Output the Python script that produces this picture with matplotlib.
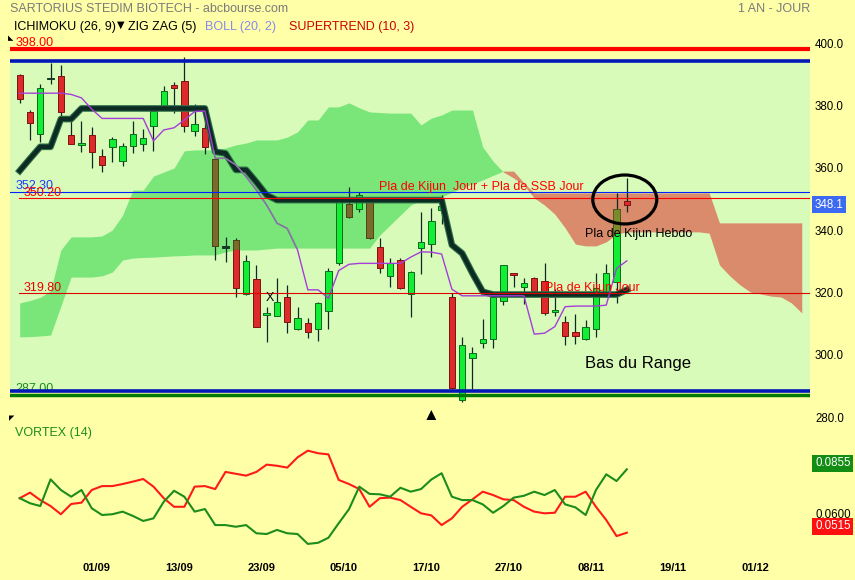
import numpy as np
import matplotlib.pyplot as plt
import matplotlib.transforms as mtransforms
from matplotlib.patches import Ellipse

plt.rcParams['font.family'] = ['Liberation Sans', 'DejaVu Sans']

W, H = 855, 580

# cours journaliers
opens = [389.7, 377.8, 370.7, 388.7, 389.5, 370.5, 367.4, 370.5, 363.7, 366.7,
         362.2, 367.0, 367.5, 373.5, 379.2, 386.5, 387.8, 371.8, 372.6, 362.7,
         334.5, 336.8, 319.4, 324.3, 312.6, 312.5, 318.4, 308.3, 310.1, 308.3,
         314.1, 329.3, 348.3, 346.6, 349.1, 334.5, 325.3, 330.4, 319.4, 334.1,
         335.4, 346.4, 318.6, 285.5, 299.0, 303.7, 304.9, 317.3, 326.1, 321.6,
         324.5, 323.6, 313.6, 310.5, 307.2, 304.9, 308.2, 319.2, 323.4, 349.4]
highs = [389.9, 378.5, 386.8, 393.5, 393.0, 377.1, 375.0, 373.1, 365.9, 369.9,
         367.8, 375.0, 372.4, 378.5, 386.2, 387.6, 395.6, 380.3, 375.8, 363.3,
         337.9, 337.4, 332.0, 328.8, 315.2, 324.5, 322.4, 315.2, 311.7, 317.0,
         327.7, 349.6, 353.7, 352.3, 349.6, 337.3, 330.9, 330.9, 326.9, 345.9,
         347.0, 351.2, 319.7, 305.8, 302.6, 311.5, 319.7, 328.9, 326.3, 324.5,
         325.0, 329.5, 321.1, 312.4, 313.0, 311.1, 326.1, 329.1, 351.8, 356.6]
lows = [380.8, 368.9, 368.3, 387.0, 376.4, 367.5, 365.1, 359.8, 358.7, 361.9,
        360.5, 364.8, 365.4, 365.4, 379.0, 377.6, 371.5, 370.3, 364.4, 330.4,
        329.8, 318.6, 319.0, 308.8, 304.2, 312.3, 307.1, 307.9, 305.3, 304.4,
        308.2, 328.8, 344.0, 345.9, 337.0, 326.1, 321.8, 321.0, 312.2, 325.8,
        331.4, 341.9, 289.0, 284.9, 288.9, 302.1, 302.1, 315.9, 321.6, 316.3,
        319.7, 312.7, 312.3, 303.0, 303.4, 304.8, 305.6, 318.5, 316.6, 345.9]
closes = [382.0, 374.4, 385.5, 388.7, 378.0, 367.7, 367.7, 365.1, 360.9, 369.1,
          367.0, 370.8, 369.4, 378.2, 384.6, 385.5, 373.5, 373.9, 366.5, 335.0,
          334.5, 321.5, 330.1, 308.8, 313.3, 316.8, 310.4, 311.7, 307.4, 316.5,
          326.9, 349.1, 344.3, 351.2, 337.3, 327.9, 329.3, 321.3, 326.4, 336.3,
          342.9, 347.7, 289.2, 303.1, 300.4, 305.0, 318.6, 328.8, 325.5, 322.9,
          320.5, 313.3, 314.3, 306.0, 305.9, 309.0, 321.3, 326.1, 346.6, 348.1]

# ichimoku
kijun = [359.0, 362.9, 366.7, 366.7, 375.6, 375.6, 379.0, 379.0, 379.0, 379.0,
         379.0, 379.0, 379.0, 379.0, 379.0, 379.0, 379.0, 379.0, 379.0, 365.1,
         364.6, 359.3, 359.3, 355.4, 351.2, 349.6, 349.6, 349.6, 349.6, 349.6,
         349.6, 349.6, 349.6, 349.6, 349.6, 349.6, 349.6, 349.6, 349.6, 349.6,
         349.6, 349.6, 335.2, 332.5, 326.1, 320.2, 319.3, 319.3, 319.3, 319.3,
         319.3, 319.3, 319.3, 319.3, 319.3, 319.3, 319.3, 319.3, 319.3, 320.8]
tenkan = [383.9, 383.9, 383.9, 383.9, 383.9, 383.5, 382.4, 378.8, 375.8, 375.8,
          375.8, 375.8, 375.8, 368.6, 372.1, 372.8, 375.3, 378.0, 378.2, 363.0,
          363.0, 360.9, 357.1, 352.8, 348.0, 342.2, 340.5, 333.6, 320.8, 320.8,
          318.1, 327.0, 329.0, 329.3, 329.3, 329.3, 329.3, 329.3, 331.3, 333.0,
          332.9, 332.3, 321.0, 318.9, 318.9, 318.9, 318.9, 318.9, 318.9, 318.9,
          306.6, 306.9, 309.0, 315.4, 315.6, 315.6, 315.6, 315.9, 327.7, 330.1]
ssa = [316.6, 317.4, 318.4, 320.5, 333.6, 337.8, 337.8, 337.8, 338.1, 340.0,
       344.8, 352.8, 352.8, 357.3, 358.6, 359.9, 365.4, 365.7, 365.7, 365.7,
       366.3, 367.3, 367.9, 368.9, 368.9, 368.9, 369.8, 371.5, 375.3, 375.3,
       379.5, 379.5, 380.8, 379.2, 377.9, 377.7, 377.5, 377.5, 377.5, 373.7,
       375.9, 376.9, 378.5, 378.5, 378.5, 366.6, 362.1, 358.6, 356.7, 354.4,
       350.3, 348.0, 345.1, 340.7, 335.5, 334.9, 334.9, 336.2, 338.7, 339.4,
       339.4, 339.4, 339.4, 339.4, 339.4, 339.4, 339.4, 339.0, 328.8, 325.3,
       322.4, 320.1, 319.5, 318.8, 318.5, 316.6, 313.4]
ssb = [305.7, 305.8, 306.0, 306.3, 315.6, 324.9, 324.9, 324.9, 325.3, 326.5,
       330.4, 331.0, 331.2, 331.3, 331.5, 331.7, 331.8, 332.0, 332.0, 332.0,
       333.0, 333.6, 333.6, 333.6, 333.9, 334.2, 334.2, 334.2, 334.2, 334.2,
       334.2, 334.2, 334.2, 334.2, 334.2, 338.4, 341.6, 344.8, 348.0, 349.6,
       350.6, 350.6, 352.1, 353.5, 354.8, 356.1, 357.5, 358.9, 358.9, 355.1,
       351.9, 351.9, 351.9, 351.9, 351.9, 351.9, 351.9, 351.9, 351.9, 351.9,
       351.9, 351.9, 351.9, 351.9, 351.9, 351.9, 351.9, 351.9, 342.3, 342.3,
       342.3, 342.3, 342.3, 342.3, 342.3, 342.3, 342.3]

# vortex (14)
vi_plus = [0.0700, 0.0673, 0.0658, 0.0801, 0.0744, 0.0708, 0.0744, 0.0646, 0.0610, 0.0614,
           0.0628, 0.0605, 0.0578, 0.0592, 0.0681, 0.0740, 0.0708, 0.0628, 0.0642, 0.0556,
           0.0556, 0.0547, 0.0556, 0.0512, 0.0508, 0.0530, 0.0512, 0.0508, 0.0455, 0.0461,
           0.0488, 0.0566, 0.0641, 0.0762, 0.0723, 0.0721, 0.0708, 0.0756, 0.0735, 0.0749,
           0.0800, 0.0834, 0.0708, 0.0690, 0.0690, 0.0667, 0.0622, 0.0658, 0.0703, 0.0713,
           0.0735, 0.0717, 0.0744, 0.0667, 0.0651, 0.0610, 0.0744, 0.0828, 0.0792, 0.0855]
vi_minus = [0.0700, 0.0730, 0.0690, 0.0658, 0.0614, 0.0669, 0.0676, 0.0744, 0.0765, 0.0765,
            0.0776, 0.0789, 0.0803, 0.0762, 0.0700, 0.0654, 0.0654, 0.0762, 0.0765, 0.0749,
            0.0841, 0.0831, 0.0821, 0.0841, 0.0880, 0.0874, 0.0864, 0.0919, 0.0955, 0.0941,
            0.0935, 0.0798, 0.0776, 0.0749, 0.0654, 0.0700, 0.0703, 0.0690, 0.0654, 0.0619,
            0.0608, 0.0556, 0.0592, 0.0654, 0.0694, 0.0735, 0.0717, 0.0694, 0.0690, 0.0654,
            0.0628, 0.0619, 0.0622, 0.0708, 0.0708, 0.0735, 0.0654, 0.0583, 0.0497, 0.0515]

# niveaux traces a la main
level_398 = 398.0
range_top = 394.3
range_bottom = 288.35
level_287 = 287.0
level_3523 = 352.3
level_3502 = 350.2
level_3198 = 319.8

date_pos = [7.5, 15.5, 23.5, 31.5, 39.5, 47.5, 55.5, 63.5, 71.5]
date_labels = ['01/09', '13/09', '23/09', '05/10', '17/10', '27/10', '08/11', '19/11', '01/12']
price_ticks = [280, 300, 320, 340, 360, 380, 400]

BG = '#ffffa8'
o = np.array(opens)
c = np.array(closes)
x = np.arange(len(closes))
xc = np.arange(len(ssa))
ssa_a = np.array(ssa)
ssb_a = np.array(ssb)


def fx(px):
    return px / W


def fy(py):
    return 1 - py / H


fig = plt.figure(figsize=(W / 100, H / 100), dpi=100, facecolor=BG)
ax = fig.add_axes([fx(10), fy(420), 800 / W, 388 / H], facecolor=BG)
ax.set_xlim(-0.943, 76.8)
ax.set_ylim(279.05, 403.53)
for s in ax.spines.values():
    s.set_visible(False)

# zone du range
ax.axhspan(range_bottom, range_top, color='#d9fbb9', lw=0, zorder=0.5)

# nuage
green_cloud = ax.fill_between(xc, ssa_a, ssb_a, where=ssa_a >= ssb_a, interpolate=True,
                              color='#7ae67a', lw=0, zorder=1)
red_cloud = ax.fill_between(xc, ssa_a, ssb_a, where=ssa_a < ssb_a, interpolate=True,
                            color='#d98b6b', lw=0, zorder=1)
gpath = green_cloud.get_paths()[0]
rpath = red_cloud.get_paths()[0]

# bougies
up = c > o
down = c < o
doji = ~(up | down)
body_col = np.where(up, '#11ee33', np.where(down, '#dd2a2a', '#163a26'))
edge_col = np.where(up, '#0b6a1e', np.where(down, '#7a1212', '#163a26'))
bottom = np.where(doji, o - 0.22, np.minimum(o, c))
height = np.where(doji, 0.45, np.maximum(np.abs(c - o), 0.5))
ax.vlines(x, lows, highs, color='#0b2a24', lw=0.9, zorder=3)
ax.bar(x, height, 0.62, bottom=bottom, color=body_col, edgecolor=edge_col, lw=0.7, zorder=3.5)

# corps vus a travers le nuage
brown = ax.bar(x[down], height[down], 0.62, bottom=bottom[down], color='#7a6a2c',
               edgecolor='#4e4418', lw=0.7, zorder=3.6)
for p in brown:
    p.set_clip_path(gpath, ax.transData)
olive = ax.bar(x[up], height[up], 0.62, bottom=bottom[up], color='#7c8a2e',
               edgecolor='#4e5a18', lw=0.7, zorder=3.6)
for p in olive:
    p.set_clip_path(rpath, ax.transData)

# kijun et tenkan
ax.plot(x, kijun, color='#2f7048', lw=4.8, zorder=3.8)
ax.plot(x, kijun, color='#0c2b22', lw=3.2, zorder=3.85)
ax.plot(x, tenkan, color='#a33fd8', lw=1.0, zorder=3.9)
grey_t, = ax.plot(x, tenkan, color='#7f7f99', lw=1.0, zorder=3.95)
grey_t.set_clip_path(gpath, ax.transData)

# lignes horizontales
ax.axhline(level_398, color='#ff0000', lw=3.0, zorder=4)
ax.axhline(range_top, color='#0018b8', lw=2.6, zorder=4)
ax.axhline(range_bottom, color='#0018b8', lw=2.6, zorder=4)
ax.axhline(level_287, color='#007a00', lw=2.5, zorder=4)
ax.axhline(level_3523, color='#0022ff', lw=0.8, zorder=4)
ax.axhline(level_3502, xmin=0.011, color='#ff0000', lw=0.8, zorder=4)
ax.axhline(level_3198, xmin=0.011, color='#dd0000', lw=0.8, zorder=4)

# etiquettes des niveaux
ax.text(-0.45, 400.0, '398.00', color='#ff0000', fontsize=9, va='center', zorder=5)
ax.text(-0.45, 354.1, '352.30', color='#1a3cff', fontsize=9, va='center', zorder=5)
ax.text(0.42, 351.9, '350.20', color='#ff0000', fontsize=9, va='center', zorder=5)
ax.text(0.42, 321.3, '319.80', color='#ee0000', fontsize=9, va='center', zorder=5)
ax.text(-0.45, 289.0, '287.00', color='#1c8c1c', fontsize=9, va='center', zorder=3.9)

# annotations
ax.text(34.9, 353.8, 'Pla de Kijun  Jour + Pla de SSB Jour', color='#ff0000', fontsize=9,
        va='center', zorder=5)
ax.text(54.9, 338.7, 'Pla de Kijun Hebdo', color='black', fontsize=9, va='center', zorder=5)
ax.text(51.05, 321.4, 'Pla de Kijun Jour', color='#ff0000', fontsize=9, va='center', zorder=5)
ax.text(54.9, 297.3, 'Bas du Range', color='black', fontsize=12, va='center', zorder=5)
ax.add_patch(Ellipse((58.8, 349.8), 6.22, 15.7, fill=False, ec='black', lw=2.3, zorder=6))
ax.text(24.3, 318.2, 'X', color='black', fontsize=9, ha='center', va='center', zorder=5)
ax.text(40, 281.0, '\u25b2', color='black', fontsize=10, ha='center', va='center', zorder=5,
        family=['DejaVu Sans'])

# axe des prix a droite
ax.yaxis.tick_right()
ax.set_yticks(price_ticks)
ax.set_yticklabels([f'{v:.1f}' for v in price_ticks])
ax.tick_params(axis='y', length=0, pad=3.6, labelsize=8.3)
ax.set_xticks([])
tr = mtransforms.blended_transform_factory(ax.transAxes, ax.transData)
ax.annotate(f'{closes[-1]:.1f}', xy=(1, closes[-1]), xycoords=tr, xytext=(3.6, 0),
            textcoords='offset points', va='center', ha='left', color='white', fontsize=8.3,
            bbox=dict(boxstyle='square,pad=0.22', fc='#3d6af2', ec='none'))

# panneau vortex
axv = fig.add_axes([fx(10), fy(557), 800 / W, 137 / H], facecolor=BG)
axv.set_xlim(-0.943, 76.8)
axv.set_ylim(0.03848, 0.11193)
for s in axv.spines.values():
    s.set_visible(False)
axv.plot(x, vi_minus, color='#ff1a1a', lw=1.5)
axv.plot(x, vi_plus, color='#1c8c1c', lw=1.5)
axv.set_xticks(date_pos)
axv.set_xticklabels(date_labels, fontsize=8, fontweight='bold')
axv.tick_params(axis='x', length=0, pad=4)
axv.set_yticks([])
trv = mtransforms.blended_transform_factory(axv.transAxes, axv.transData)
axv.annotate(f'{vi_plus[-1]:.4f}', xy=(1, vi_plus[-1]), xycoords=trv, xytext=(3.6, 4.5),
             textcoords='offset points', va='center', ha='left', color='white', fontsize=8.3,
             bbox=dict(boxstyle='square,pad=0.22', fc='#138c13', ec='none'))
axv.annotate(f'{vi_minus[-1]:.4f}', xy=(1, vi_minus[-1]), xycoords=trv, xytext=(3.6, 4.5),
             textcoords='offset points', va='center', ha='left', color='white', fontsize=8.3,
             bbox=dict(boxstyle='square,pad=0.22', fc='#ff1010', ec='none'))
axv.annotate('0.0600', xy=(1, 0.0600), xycoords=trv, xytext=(3.6, 1.5),
             textcoords='offset points', va='center', ha='left', color='black', fontsize=8.3)

# en-tetes
fig.text(fx(10), fy(9), 'SARTORIUS STEDIM BIOTECH - abcbourse.com', color='#7a7a7a',
         fontsize=9, va='center')
fig.text(fx(810), fy(9), '1 AN - JOUR', color='#7a7a7a', fontsize=9, va='center', ha='right')
fig.text(fx(14), fy(27), 'ICHIMOKU (26, 9)', color='black', fontsize=9, va='center')
fig.text(fx(117), fy(25), '\u25bc', color='black', fontsize=7, va='center', family=['DejaVu Sans'])
fig.text(fx(128), fy(27), 'ZIG ZAG (5)', color='black', fontsize=9, va='center')
fig.text(fx(205), fy(27), 'BOLL (20, 2)', color='#8888ee', fontsize=9, va='center')
fig.text(fx(289), fy(27), 'SUPERTREND (10, 3)', color='#cc0000', fontsize=9, va='center')
fig.text(fx(8), fy(38), '\u25e3', color='black', fontsize=5, va='center', family=['DejaVu Sans'])
fig.text(fx(15), fy(433), 'VORTEX (14)', color='#1c8c1c', fontsize=9, va='center')
fig.text(fx(9), fy(418), '\u25e4', color='black', fontsize=5, va='center', family=['DejaVu Sans'])

fig.savefig('out.png', dpi=100, facecolor=BG)
